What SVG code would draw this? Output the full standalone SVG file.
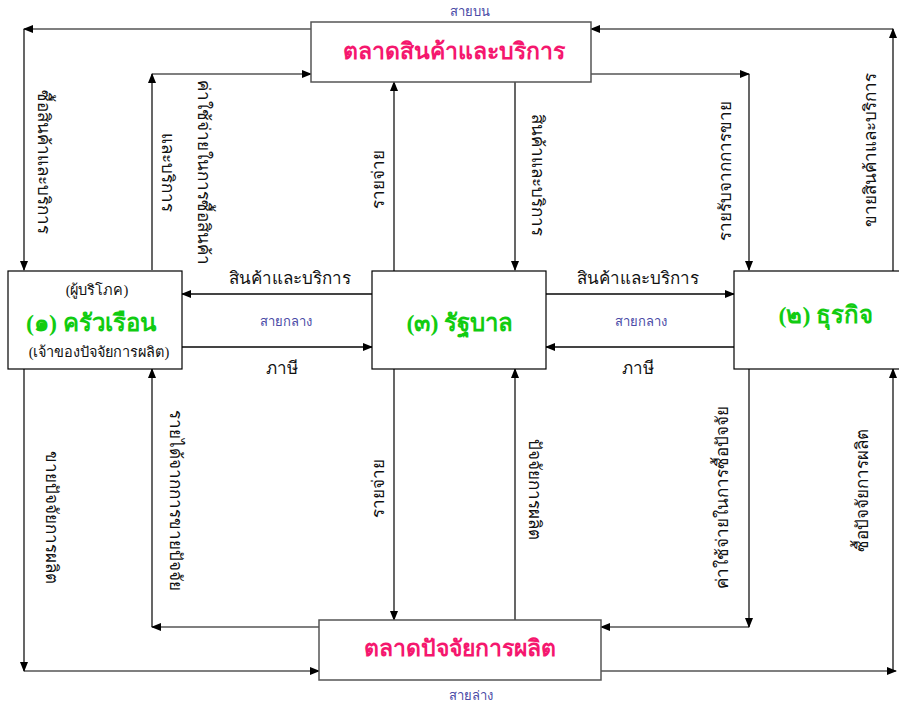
<svg xmlns="http://www.w3.org/2000/svg" width="899" height="706" viewBox="0 0 899 706">
<style>
.box{fill:#fff;stroke:#000;stroke-width:1.2}
.mbox{fill:#fff;stroke:#555;stroke-width:1.5}
.ln{stroke:#000;stroke-width:1.2;fill:none;marker-end:url(#ah)}
.mid{stroke:#444;stroke-width:2;fill:none;marker-end:url(#ah)}
.lbl{font-family:"Liberation Serif","DejaVu Serif",serif;font-size:17px;fill:#111;text-anchor:middle}
.sm{font-family:"Liberation Serif","DejaVu Serif",serif;font-size:14.5px;fill:#111;text-anchor:middle}
.ttl{font-family:"Liberation Serif","DejaVu Serif",serif;font-size:24px;font-weight:bold;fill:#11cc11;text-anchor:middle}
.mkt{font-family:"Liberation Serif","DejaVu Serif",serif;font-size:23px;font-weight:bold;fill:#f5176e;text-anchor:middle}
.line{font-family:"Liberation Sans","DejaVu Sans",sans-serif;font-size:13px;fill:#4a4aa6;text-anchor:middle}
</style>
<defs>
<marker id="ah" markerWidth="10" markerHeight="8" refX="9" refY="4" orient="auto" markerUnits="userSpaceOnUse">
<path d="M0,0 L10,4 L0,8 Z" fill="#000"/>
</marker>
</defs>
<rect width="899" height="706" fill="#fff"/>

<g id="connectors">
<line class="ln" x1="311" y1="29" x2="24" y2="29"/>
<line class="ln" x1="24" y1="29" x2="24" y2="270"/>
<line class="ln" x1="152" y1="270" x2="152" y2="74"/>
<line class="ln" x1="152" y1="74" x2="311" y2="74"/>
<line class="ln" x1="591" y1="74" x2="749" y2="74"/>
<line class="ln" x1="749" y1="74" x2="749" y2="270"/>
<line class="ln" x1="893" y1="271" x2="893" y2="29"/>
<line class="ln" x1="893" y1="29" x2="591" y2="29"/>
<line class="ln" x1="394" y1="271" x2="394" y2="82"/>
<line class="ln" x1="515" y1="82" x2="515" y2="270"/>
<line class="mid" x1="372" y1="294" x2="182" y2="294"/>
<line class="mid" x1="182" y1="347" x2="372" y2="347"/>
<line class="mid" x1="546" y1="294" x2="734" y2="294"/>
<line class="mid" x1="734" y1="347" x2="546" y2="347"/>
<line class="ln" x1="24" y1="369" x2="24" y2="671"/>
<line class="ln" x1="24" y1="671" x2="319" y2="671"/>
<line class="ln" x1="319" y1="627" x2="152" y2="627"/>
<line class="ln" x1="152" y1="627" x2="152" y2="369"/>
<line class="ln" x1="749" y1="369" x2="749" y2="627"/>
<line class="ln" x1="749" y1="627" x2="601" y2="627"/>
<line class="ln" x1="601" y1="671" x2="896" y2="671"/>
<line class="ln" x1="893" y1="671" x2="893" y2="369"/>
<line class="ln" x1="394" y1="369" x2="394" y2="620"/>
<line class="ln" x1="515" y1="620" x2="515" y2="369"/>
</g>

<g id="labels">
<text class="line" x="470" y="16">สายบน</text>
<text class="line" x="471" y="700">สายล่าง</text>
<text class="line" x="286" y="326">สายกลาง</text>
<text class="line" x="641" y="326">สายกลาง</text>
<text class="lbl" x="290" y="284">สินค้าและบริการ</text>
<text class="lbl" x="282" y="374">ภาษี</text>
<text class="lbl" x="638" y="284">สินค้าและบริการ</text>
<text class="lbl" x="638" y="374">ภาษี</text>
<text class="lbl" transform="translate(44,162) rotate(90)" y="6">ซื้อสินค้าและบริการ</text>
<text class="lbl" transform="translate(186,172) rotate(90)"><tspan x="0" y="-12">ค่าใช้จ่ายในการซื้อสินค้า</tspan><tspan x="0" y="24">และบริการ</tspan></text>
<text class="lbl" transform="translate(378,179) rotate(-90)" y="6">รายจ่าย</text>
<text class="lbl" transform="translate(538,175) rotate(90)" y="6">สินค้าและบริการ</text>
<text class="lbl" transform="translate(725,171) rotate(-90)" y="6">รายรับจากการขาย</text>
<text class="lbl" transform="translate(870,150) rotate(-90)" y="6">ขายสินค้าและบริการ</text>
<text class="lbl" transform="translate(52,517) rotate(90)" y="6">ขายปัจจัยการผลิต</text>
<text class="lbl" transform="translate(176,500) rotate(90)" y="6">รายได้จากการขายปัจจัย</text>
<text class="lbl" transform="translate(378,488) rotate(-90)" y="6">รายจ่าย</text>
<text class="lbl" transform="translate(535,489) rotate(90)" y="6">ปัจจัยการผลิต</text>
<text class="lbl" transform="translate(722,497) rotate(-90)" y="6">ค่าใช้จ่ายในการซื้อปัจจัย</text>
<text class="lbl" transform="translate(862,490) rotate(-90)" y="6">ซื้อปัจจัยการผลิต</text>
</g>

<g id="market-goods">
<rect class="mbox" x="311" y="22" width="280" height="60"/>
<text class="mkt" x="454" y="59">ตลาดสินค้าและบริการ</text>
</g>
<g id="market-factors">
<rect class="mbox" x="319" y="620" width="282" height="60"/>
<text class="mkt" x="460" y="656">ตลาดปัจจัยการผลิต</text>
</g>
<g id="household">
<rect class="box" x="8" y="271" width="174" height="98"/>
<text class="sm" x="97" y="295">(ผู้บริโภค)</text>
<text class="ttl" x="91" y="331">(๑) ครัวเรือน</text>
<text class="sm" x="99" y="357">(เจ้าของปัจจัยการผลิต)</text>
</g>
<g id="government">
<rect class="box" x="372" y="271" width="174" height="98"/>
<text class="ttl" x="460" y="331">(๓) รัฐบาล</text>
</g>
<g id="business">
<rect class="box" x="734" y="271" width="170" height="98"/>
<text class="ttl" x="826" y="323">(๒) ธุรกิจ</text>
</g>
</svg>
